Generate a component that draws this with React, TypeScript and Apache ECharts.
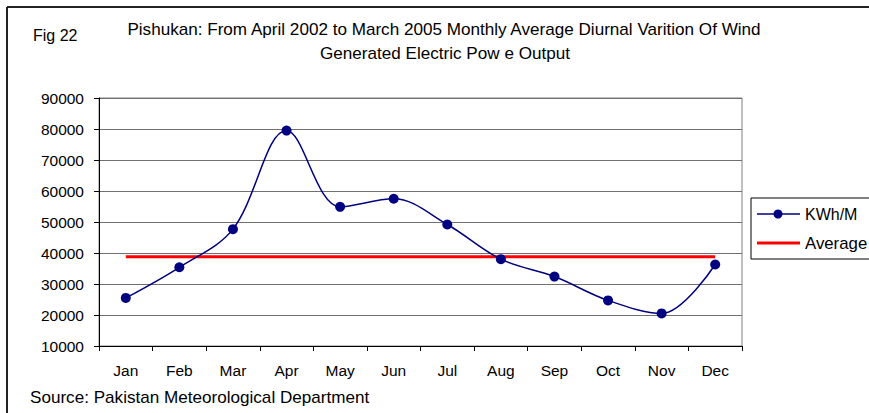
import React, { useEffect, useRef } from "react";
import * as echarts from "echarts";

const months = ["Jan", "Feb", "Mar", "Apr", "May", "Jun", "Jul", "Aug", "Sep", "Oct", "Nov", "Dec"];
const kwhValues = [25500, 35400, 47700, 79500, 54900, 57500, 49200, 38000, 32400, 24700, 20500, 36300];
const averageValues = [38800, 38800, 38800, 38800, 38800, 38800, 38800, 38800, 38800, 38800, 38800, 38800];
const seriesNames = ["KWh/M", "Average"];
const titleLine1 = "Pishukan: From April 2002 to March 2005 Monthly Average Diurnal Varition Of Wind";
const titleLine2 = "Generated Electric Pow e Output";
const figLabel = "Fig 22";
const sourceText = "Source: Pakistan Meteorological Department";

const FONT = "'Liberation Sans', Arial, sans-serif";
const NAVY = "#000080";
const RED = "#ff0000";

export default function App() {
  const ref = useRef<HTMLDivElement>(null);
  useEffect(() => {
    if (!ref.current) return;
    const chart = echarts.init(ref.current, undefined, { renderer: "svg" });
    chart.setOption({
      animation: false,
      backgroundColor: "#ffffff",
      textStyle: { fontFamily: FONT },
      grid: {
        left: 99,
        right: 127,
        top: 98,
        bottom: 67,
        show: true,
        borderColor: "#808080",
        borderWidth: 1,
      },
      xAxis: {
        type: "category",
        data: months,
        boundaryGap: true,
        axisLine: { lineStyle: { color: "#000", width: 1 } },
        axisTick: { show: true, length: 5, lineStyle: { color: "#000" } },
        axisLabel: { color: "#000", fontSize: 15.5, margin: 16, fontFamily: FONT },
        splitLine: { show: false },
      },
      yAxis: {
        type: "value",
        min: 10000,
        max: 90000,
        interval: 10000,
        axisLine: { show: true, lineStyle: { color: "#000", width: 1 } },
        axisTick: { show: true, length: 5, lineStyle: { color: "#000" } },
        axisLabel: {
          color: "#000",
          fontSize: 15.5,
          margin: 15,
          fontFamily: FONT,
          formatter: (v: number) => String(v),
        },
        splitLine: { show: true, lineStyle: { color: "#707070", width: 1 } },
      },
      series: [
        {
          name: seriesNames[0],
          type: "line",
          data: kwhValues,
          smooth: 0.35,
          symbol: "circle",
          symbolSize: 10,
          itemStyle: { color: NAVY },
          lineStyle: { color: NAVY, width: 1.5 },
          z: 3,
        },
        {
          name: seriesNames[1],
          type: "line",
          data: averageValues,
          symbol: "none",
          itemStyle: { color: RED },
          lineStyle: { color: RED, width: 3 },
          z: 2,
        },
      ],
      graphic: [
        { type: "line", shape: { x1: 7, y1: 7, x2: 869, y2: 7 }, style: { stroke: "#222", lineWidth: 2 } },
        { type: "line", shape: { x1: 7, y1: 7, x2: 7, y2: 413 }, style: { stroke: "#222", lineWidth: 2 } },
        {
          type: "text",
          x: 33,
          y: 35,
          style: { text: figLabel, fontSize: 16, fill: "#000", fontFamily: FONT, verticalAlign: "middle" },
        },
        {
          type: "text",
          x: 444,
          y: 30,
          scaleX: 1.07,
          style: { text: titleLine1, fontSize: 16, fill: "#000", fontFamily: FONT, align: "center", verticalAlign: "middle" },
        },
        {
          type: "text",
          x: 445,
          y: 54,
          scaleX: 1.07,
          style: { text: titleLine2, fontSize: 16, fill: "#000", fontFamily: FONT, align: "center", verticalAlign: "middle" },
        },
        {
          type: "text",
          x: 30,
          y: 398,
          scaleX: 1.07,
          style: { text: sourceText, fontSize: 16, fill: "#000", fontFamily: FONT, verticalAlign: "middle" },
        },
        {
          type: "rect",
          shape: { x: 751, y: 198, width: 140, height: 61 },
          style: { fill: "#fff", stroke: "#000", lineWidth: 1 },
          z: 10,
        },
        { type: "line", shape: { x1: 757, y1: 214, x2: 800, y2: 214 }, style: { stroke: NAVY, lineWidth: 1.5 }, z: 11 },
        { type: "circle", shape: { cx: 778, cy: 214, r: 4.5 }, style: { fill: NAVY }, z: 11 },
        {
          type: "text",
          x: 805,
          y: 214,
          z: 11,
          style: { text: seriesNames[0], fontSize: 16, fill: "#000", fontFamily: FONT, verticalAlign: "middle" },
        },
        { type: "line", shape: { x1: 757, y1: 243, x2: 800, y2: 243 }, style: { stroke: RED, lineWidth: 3 }, z: 11 },
        {
          type: "text",
          x: 805,
          y: 243,
          z: 11,
          scaleX: 1.05,
          style: { text: seriesNames[1], fontSize: 16, fill: "#000", fontFamily: FONT, verticalAlign: "middle" },
        },
      ],
    });
    return () => chart.dispose();
  }, []);
  return (
    <div
      ref={ref}
      style={{ position: "fixed", left: 0, top: 0, width: 869, height: 413 }}
    />
  );
}
